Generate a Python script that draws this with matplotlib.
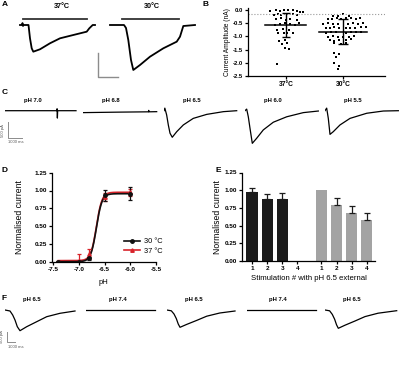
import numpy as np
import matplotlib
matplotlib.use("Agg")
import matplotlib.pyplot as plt
from matplotlib.lines import Line2D

plt.rcParams['font.family'] = ['Liberation Sans', 'DejaVu Sans']
plt.rcParams['font.weight'] = 'bold'
plt.rcParams['axes.unicode_minus'] = False

W, H = 400, 371

# ---- A: currents at 37 and 30 degC (time ms, current pA)
a37_t = [0, 200, 250, 300, 350, 850, 1000, 1170, 1330, 2000, 3000, 4000, 5330, 6670, 6930, 7270, 7500]
a37_i = [0, 0, 40, -20, 0, 0, -277, -485, -555, -505, -380, -277, -208, -139, -69, 0, 0]
a30_t = [0, 1400, 1600, 1830, 2100, 2330, 3000, 4000, 5330, 6670, 7000, 7330, 8500]
a30_i = [0, 0, -62, -312, -728, -936, -832, -659, -485, -347, -243, -21, 0]
a_bar37 = [300, 6700]
a_bar30 = [1200, 6900]

# ---- B: current amplitudes (nA), offsets are the swarm spread
b_labels = ['37°C', '30°C']
b37_off = [-0.27, -0.18, -0.11, -0.04, 0.04, 0.12, 0.19, 0.25, 0.30, -0.21, -0.13, -0.08, 0.02, 0.13, 0.20,
           -0.18, -0.08, 0.0, 0.07, 0.19, -0.19, -0.11, -0.02, 0.07, 0.16, 0.23, -0.15, -0.05, 0.06,
           -0.13, -0.04, 0.02, 0.13, -0.12, -0.02, -0.06, 0.02, -0.02, 0.06, -0.15]
b37_val = [-0.04, 0.0, -0.03, 0.0, 0.0, 0.0, -0.03, -0.06, -0.08, -0.19, -0.15, -0.19, -0.16, -0.15, -0.19,
           -0.35, -0.32, -0.38, -0.35, -0.38, -0.57, -0.53, -0.51, -0.53, -0.57, -0.48, -0.76, -0.73, -0.76,
           -0.88, -0.88, -0.86, -0.86, -1.16, -1.14, -1.29, -1.24, -1.45, -1.49, -2.05]
b30_off = [-0.18, -0.09, 0.01, 0.11, -0.26, -0.19, -0.11, -0.03, 0.06, 0.15, 0.23, 0.30,
           -0.34, -0.26, -0.18, -0.09, 0.09, 0.18, 0.26, 0.35,
           -0.30, -0.22, -0.15, -0.06, 0.05, 0.13, 0.22, 0.32, 0.40,
           -0.29, -0.20, -0.12, 0.06, 0.15, 0.23, 0.32,
           -0.26, -0.18, -0.09, 0.0, 0.11, 0.19, -0.23, -0.15, -0.06, 0.06, 0.15,
           -0.15, -0.03, 0.06, -0.15, -0.06, -0.12, -0.15, -0.06, -0.09]
b30_val = [-0.23, -0.21, -0.16, -0.21, -0.35, -0.34, -0.32, -0.34, -0.32, -0.32, -0.35, -0.32,
           -0.53, -0.51, -0.53, -0.53, -0.53, -0.51, -0.53, -0.51,
           -0.69, -0.69, -0.66, -0.69, -0.69, -0.69, -0.69, -0.66, -0.66,
           -0.86, -0.85, -0.82, -0.86, -0.82, -0.85, -0.85,
           -1.01, -0.98, -1.01, -1.01, -1.01, -0.98, -1.14, -1.16, -1.14, -1.14, -1.11,
           -1.26, -1.29, -1.26, -1.62, -1.67, -1.77, -2.00, -2.12, -2.25]
b_mean = [-0.575, -0.815]
b_sd = [0.455, 0.465]
b_thresh = -0.17

# ---- C: pH steps (time ms, current pA)
c_titles = ['pH 7.0', 'pH 6.8', 'pH 6.5', 'pH 6.0', 'pH 5.5']
c_t = [[0, 3700, 3720, 3740, 3760, 5070],
       [0, 2500, 4650, 4670, 4690, 5240],
       [0, 60, 190, 310, 430, 590, 910, 1380, 2090, 3050, 4240, 5190],
       [0, 120, 236, 357, 521, 836, 1307, 2021, 2979, 4164, 5236],
       [0, 120, 236, 357, 593, 1071, 1786, 2979, 4164, 5236]]
c_i = [[0, 0, 60, -230, 0, 0],
       [-60, -45, -35, 10, -35, -30],
       [0, 80, -135, -450, -705, -830, -655, -445, -240, -115, -30, 0],
       [0, 50, -190, -550, -1020, -860, -600, -360, -190, -60, -10],
       [0, 80, -240, -740, -655, -445, -240, -80, -10, 0]]

# ---- D: pH response curves
d_ph = [-7.4, -7.0, -6.8, -6.5, -6.0]
d_30 = [0.0, 0.0, 0.05, 0.93, 0.955]
d_30_err = [0.01, 0.01, 0.02, 0.08, 0.09]
d_37 = [0.0, 0.015, 0.11, 0.91, 0.975]
d_37_err = [0.01, 0.10, 0.07, 0.06, 0.05]
fit_30 = (0.0, 0.955, -6.66, 8.0)   # bottom, top, midpoint, hill slope
fit_37 = (0.015, 0.975, -6.66, 8.0)

# ---- E: repeated stimulation
e_labels = ['1', '2', '3', '4', '1', '2', '3', '4']
e_black = [0.97, 0.87, 0.88]
e_black_err = [0.06, 0.07, 0.085]
e_gray = [1.0, 0.795, 0.68, 0.586]
e_gray_err = [0.0, 0.10, 0.095, 0.09]

# ---- F: alternating pH (time ms, current pA)
f_titles = ['pH 6.5', 'pH 7.4', 'pH 6.5', 'pH 7.4', 'pH 6.5']
f_t = [[0, 650, 1000, 1300, 1600, 1950, 2820, 4120, 5420, 7150, 9100],
       [0, 8970],
       [0, 600, 950, 1250, 1500, 1730, 2600, 3900, 5200, 6900, 8880],
       [0, 8970],
       [0, 600, 950, 1250, 1500, 1730, 2600, 3900, 5200, 6900, 9320]]
f_i = [[0, -50, -250, -500, -835, -1035, -835, -585, -335, -165, -50],
       [0, 0],
       [0, -40, -200, -430, -700, -865, -720, -520, -310, -150, -50],
       [0, 0],
       [0, -40, -220, -460, -740, -915, -760, -550, -330, -160, -35]]

fig = plt.figure(figsize=(4, 3.71), dpi=100)


def px_axes(x0, y0, x1, y1):
    return fig.add_axes([x0 / W, 1 - y1 / H, (x1 - x0) / W, (y1 - y0) / H])


def trace_axes(x0, y0, x1, y1, ms_px, pa_px, base):
    ax = px_axes(x0, y0, x1, y1)
    ax.set_xlim(0, (x1 - x0) * ms_px)
    ax.set_ylim((base - y1) * pa_px, (base - y0) * pa_px)
    ax.axis('off')
    return ax


def prism(ax, size=4.6):
    for s in ['top', 'right']:
        ax.spines[s].set_visible(False)
    for s in ['left', 'bottom']:
        ax.spines[s].set_linewidth(0.9)
    ax.tick_params(width=0.9, length=2.5, labelsize=size, pad=1)


def letter(x, y, s):
    fig.text(x / W, 1 - y / H, s, fontsize=6, fontweight='bold', va='center')


letter(2, 5, 'A')
letter(203, 5, 'B')
letter(2, 92, 'C')
letter(2, 170, 'D')
letter(216, 170, 'E')
letter(2, 299, 'F')

# A
ax = trace_axes(20, 0, 100, 80, 100, 20.8, 25)
ax.plot(a37_t, a37_i, color='black', lw=1.3, clip_on=False)
ax.plot(a_bar37, [125, 125], color='#333333', lw=1.3, clip_on=False)
ax.text(4200, 395, '37°C', ha='center', va='center', fontsize=5.2)
ax.plot([7770, 7770, 9770], [-576, -1076, -1076], color='#8c8c8c', lw=1, clip_on=False)
ax = trace_axes(110, 0, 200, 80, 100, 20.8, 25)
ax.plot(a30_t, a30_i, color='black', lw=1.3, clip_on=False)
ax.plot(a_bar30, [125, 125], color='#333333', lw=1.3, clip_on=False)
ax.text(4200, 395, '30°C', ha='center', va='center', fontsize=5.2)

# B
ax = px_axes(247.7, 8.4, 385, 76)
prism(ax, 4.2)
ax.axhline(b_thresh, color='#999999', ls=':', lw=0.8)
for k, (off, val) in enumerate([(b37_off, b37_val), (b30_off, b30_val)]):
    ax.scatter(np.array(off) + k, val, marker='s', s=4.5, color='black', lw=0)
    half = 0.36 + 0.06 * k
    ax.plot([k - half, k + half], [b_mean[k]] * 2, color='black', lw=1.1)
    ax.errorbar(k, b_mean[k], yerr=b_sd[k], color='black', lw=1.0, capsize=3 + 0.5 * k, capthick=1.0)
ax.set_xlim(-0.67, 1.74)
ax.set_ylim(-2.5, 0.06)
ax.set_yticks([0.0, -0.5, -1.0, -1.5, -2.0, -2.5])
ax.set_yticklabels(['0.0', '-0.5', '-1.0', '-1.5', '-2.0', '-2.5'])
ax.set_xticks([0, 1])
ax.set_xticklabels(b_labels, fontsize=4.8)
ax.set_ylabel('Current Amplitude (nA)', fontsize=4.8)
ax.yaxis.set_label_coords(-0.125, 0.5)

# C
c_x0 = [5, 83.3, 164, 245, 325]
for k in range(5):
    ax = trace_axes(c_x0[k], 95, c_x0[k] + 76, 150, 71.4, 31.25, 110.7)
    ax.plot(c_t[k], c_i[k], color='black', lw=0.9)
    ax.text(2000, 334, c_titles[k], ha='center', va='center', fontsize=4.2)
    if k == 0:
        ax.plot([236, 236, 1236], [-362, -862, -862], color='#8c8c8c', lw=0.7, clip_on=False)
        ax.text(-143, -612, '500 pA', rotation=90, ha='center', va='center', fontsize=3,
                fontweight='normal', color='#555555')
        ax.text(750, -975, '1000 ms', ha='center', va='center', fontsize=3,
                fontweight='normal', color='#555555')

# D
ax = px_axes(51.7, 172.7, 156, 261.7)
prism(ax)
xs = np.linspace(d_ph[0], d_ph[-1], 200)
for fit, col in [(fit_37, '#d8232a'), (fit_30, '#111111')]:
    b, t, m, h = fit
    ax.plot(xs, b + (t - b) / (1 + 10 ** ((m - xs) * h)), color=col, lw=1.2)
ax.errorbar(d_ph, d_37, yerr=d_37_err, fmt='^', color='#d8232a', ms=2.5, lw=0.9, capsize=1.6, capthick=0.9)
ax.errorbar(d_ph, d_30, yerr=d_30_err, fmt='o', color='#111111', ms=2.5, lw=0.9, capsize=1.6, capthick=0.9)
ax.set_xlim(-7.53, -5.5)
ax.set_ylim(0, 1.25)
ax.set_xticks([-7.5, -7.0, -6.5, -6.0, -5.5])
ax.set_yticks([0, 0.25, 0.5, 0.75, 1.0, 1.25])
ax.set_yticklabels(['0.00', '0.25', '0.50', '0.75', '1.00', '1.25'])
ax.set_xlabel('pH', fontsize=5.5)
ax.xaxis.set_label_coords(0.5, -0.19)
ax.set_ylabel('Normalised current', fontsize=6.2)
ax.yaxis.set_label_coords(-0.27, 0.5)
handles = [Line2D([], [], color='#111111', marker='o', ms=2.5, lw=1.2),
           Line2D([], [], color='#d8232a', marker='^', ms=2.5, lw=1.2)]
ax.legend(handles, ['30 °C', '37 °C'], loc='center left', bbox_to_anchor=(0.63, 0.17), frameon=False,
          prop={'size': 5.3, 'weight': 'normal'}, handlelength=2.2, handletextpad=0.5, labelspacing=0.35)

# E
ax = px_axes(242.3, 172.5, 375, 261)
prism(ax)
pos_black = np.arange(len(e_black))
pos_gray = np.arange(len(e_gray)) + 4.6
ax.bar(pos_black, e_black, width=0.75, color='#1c1c1c')
ax.errorbar(pos_black, e_black, yerr=[[0] * 3, e_black_err], fmt='none', ecolor='#1c1c1c',
            lw=0.9, capsize=2, capthick=0.9)
ax.bar(pos_gray, e_gray, width=0.75, color='#a3a3a3')
ax.errorbar(pos_gray[1:], e_gray[1:], yerr=[[0] * 3, e_gray_err[1:]], fmt='none', ecolor='#1c1c1c',
            lw=0.9, capsize=2, capthick=0.9)
ax.set_xticks(list(np.arange(4)) + list(pos_gray))
ax.set_xticklabels(e_labels)
ax.set_xlim(-0.65, 8.15)
ax.set_ylim(0, 1.25)
ax.set_yticks([0, 0.25, 0.5, 0.75, 1.0, 1.25])
ax.set_yticklabels(['0.00', '0.25', '0.50', '0.75', '1.00', '1.25'])
ax.set_xlabel('Stimulation # with pH 6.5 external', fontsize=5.6)
ax.xaxis.set_label_coords(0.5, -0.16)
ax.set_ylabel('Normalised current', fontsize=6.2)
ax.yaxis.set_label_coords(-0.155, 0.5)

# F
f_x0 = [5, 86, 166.7, 246.7, 325]
for k in range(5):
    ax = trace_axes(f_x0[k], 295, f_x0[k] + 76, 345, 130, 50, 310)
    ax.plot(f_t[k], f_i[k], color='black', lw=0.9)
    ax.text(3500 if k % 2 == 0 else 4100, 500, f_titles[k], ha='center', va='center', fontsize=4.2)
    if k == 0:
        ax.plot([300, 300, 1300], [-1085, -1585, -1585], color='#8c8c8c', lw=0.7, clip_on=False)
        ax.text(-325, -1335, '500 pA', rotation=90, ha='center', va='center', fontsize=3,
                fontweight='normal', color='#555555', clip_on=False)
        ax.text(1430, -1865, '1000 ms', ha='center', va='center', fontsize=3,
                fontweight='normal', color='#555555', clip_on=False)

fig.savefig('out.png', dpi=100)
